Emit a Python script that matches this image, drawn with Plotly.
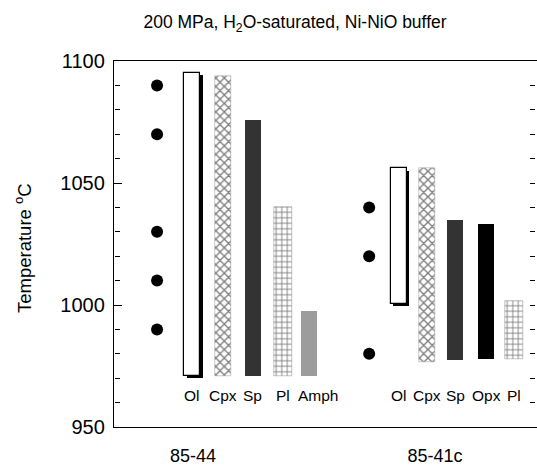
import plotly.graph_objects as go

# ---- data ----
samples = ["85-44", "85-41c"]
run_temps_85_44 = [1090, 1070, 1030, 1010, 990]
run_temps_85_41c = [1040, 1020, 980]
phases_85_44 = ["Ol", "Cpx", "Sp", "Pl", "Amph"]
top_85_44 = [1095, 1094, 1076, 1040, 997.5]
bottom_85_44 = [971, 971, 971, 971, 971]
phases_85_41c = ["Ol", "Cpx", "Sp", "Opx", "Pl"]
top_85_41c = [1056, 1056, 1035, 1033, 1001.5]
bottom_85_41c = [1000.5, 976.5, 977.5, 978, 978]

# ---- layout constants (positions in slot units) ----
group_origin = [0.0, 7.19]
slot_pos = [[1.19, 2.25, 3.24, 4.27, 5.15], [1.0, 1.97, 2.92, 3.97, 4.9]]
sample_label_pos = [1.22, 9.42]
XR = [-1.46, 12.88]
YR = [950, 1100]
W = 0.54

styles = {
    "Ol": dict(color="white", line=dict(color="black", width=1.2)),
    "Cpx": dict(color="white", line=dict(color="#999999", width=0.5),
                pattern=dict(shape="x", fgcolor="black", bgcolor="white", size=6, solidity=0.4)),
    "Sp": dict(color="#333333", line=dict(width=0)),
    "Pl": dict(color="white", line=dict(color="#888888", width=0.5),
               pattern=dict(shape="+", fgcolor="black", bgcolor="white", size=5.5, solidity=0.3)),
    "Amph": dict(color="#9c9c9c", line=dict(width=0)),
    "Opx": dict(color="black", line=dict(width=0)),
}

fig = go.Figure()
groups = [
    (run_temps_85_44, phases_85_44, top_85_44, bottom_85_44),
    (run_temps_85_41c, phases_85_41c, top_85_41c, bottom_85_41c),
]
run_axes = ["y3", "y2"]  # overlaid axes carrying the minor ticks (left / right)
annotations = []
for gi, (runs, phases, tops, bots) in enumerate(groups):
    ox = group_origin[gi]
    for pi, ph in enumerate(phases):
        x = ox + slot_pos[gi][pi]
        w = W if ph != "Pl" else 0.62
        if ph == "Ol":
            # shadow
            fig.add_trace(go.Bar(x=[x + 0.09], base=[bots[pi] - 0.9], y=[tops[pi] - bots[pi]],
                                 width=[w], marker=dict(color="black", line=dict(width=0)),
                                 showlegend=False))
        fig.add_trace(go.Bar(x=[x], base=[bots[pi]], y=[tops[pi] - bots[pi]], width=[w],
                             marker=styles[ph], showlegend=False))
        annotations.append(dict(x=x, y=963, xref="x", yref="y", text=ph, showarrow=False,
                                xshift=(10 if ph == "Amph" else 0),
                                font=dict(size=15.5, color="black")))
    fig.add_trace(go.Scatter(x=[ox] * len(runs), y=runs, mode="markers", yaxis=run_axes[gi],
                             marker=dict(color="black", size=12), showlegend=False))

annotations.append(dict(text="Temperature <sup>o</sup>C", textangle=-90, showarrow=False,
                        xref="paper", yref="paper", x=(23 - 114) / 423, y=(427 - 248) / 366,
                        xanchor="center", yanchor="middle", font=dict(size=18.5)))

minor_axis = dict(range=YR, overlaying="y", showgrid=False, zeroline=False, showline=False,
                  ticks="inside", ticklen=5, tickwidth=1, tickcolor="black", dtick=10,
                  showticklabels=False, anchor="free")

fig.update_layout(
    width=537, height=466,
    margin=dict(l=114, r=0, t=61, b=39),
    paper_bgcolor="white", plot_bgcolor="rgba(0,0,0,0)",
    barmode="overlay", bargap=0,
    font=dict(family="Liberation Sans, Arial, sans-serif", color="black"),
    title=dict(text="200 MPa, H<sub>2</sub>O-saturated, Ni-NiO buffer",
               x=295 / 537, xanchor="center", xref="container",
               y=1 - 22 / 466, yanchor="middle", yref="container",
               font=dict(size=17.5)),
    annotations=annotations,
    xaxis=dict(range=XR, showgrid=False, zeroline=False, showline=True, linecolor="black",
               linewidth=1.3, mirror=True, ticks="", tickvals=sample_label_pos, ticktext=samples,
               tickfont=dict(size=18), ticklabelstandoff=12),
    yaxis=dict(range=YR, showgrid=False, zeroline=False, showline=True,
               linecolor="black", linewidth=1.3, ticks="inside", ticklen=8, tickwidth=1,
               tickcolor="black", dtick=50, tickfont=dict(size=20), ticklabelstandoff=4),
    yaxis2=dict(minor_axis, side="right", position=0.995),
    yaxis3=dict(minor_axis, side="left", position=0.0),
)
fig.write_html("out.html")
